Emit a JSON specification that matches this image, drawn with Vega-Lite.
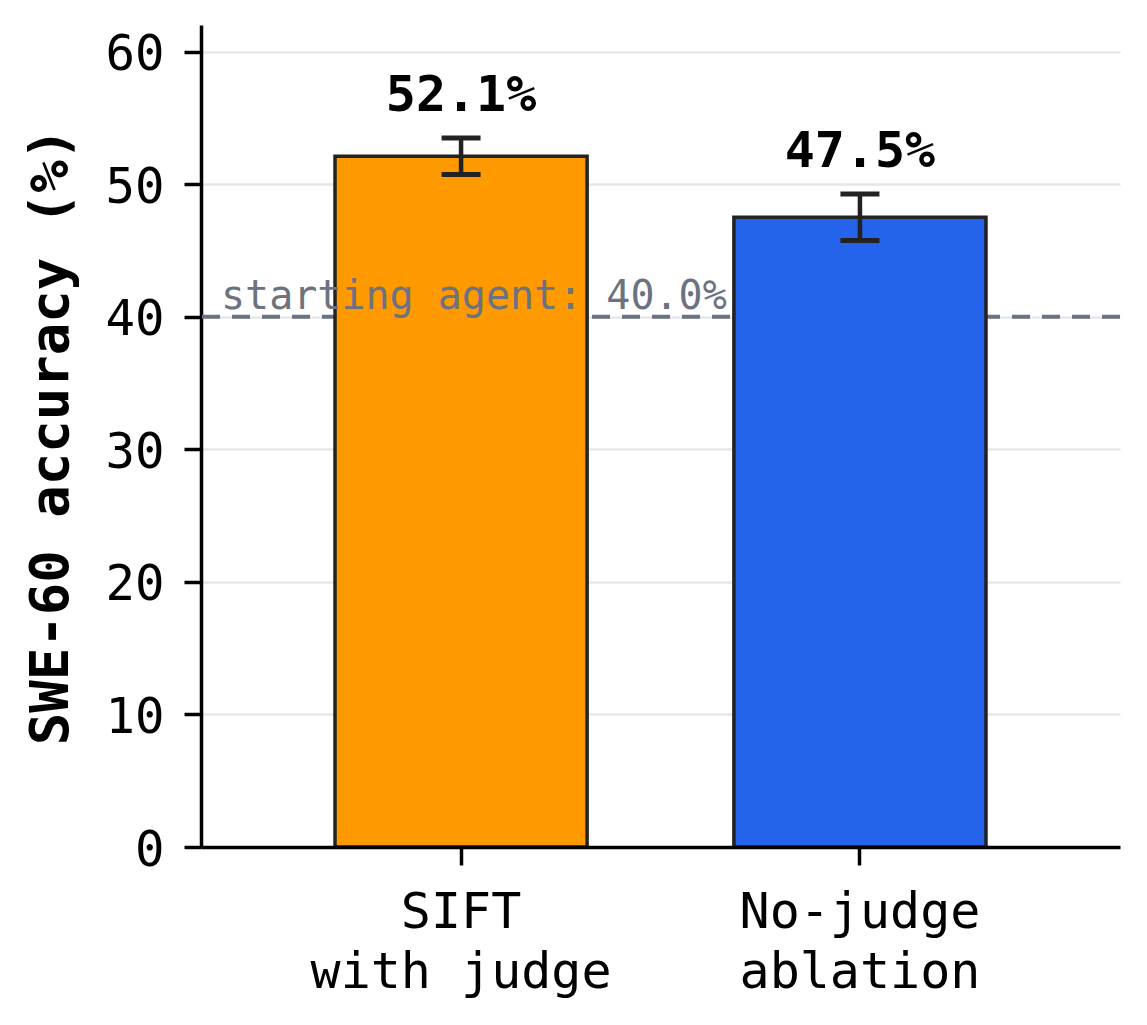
{
  "$schema": "https://vega.github.io/schema/vega-lite/v6.json",
  "width": 919,
  "height": 822,
  "autosize": {"type": "none"},
  "padding": {"left": 201, "top": 25, "right": 27, "bottom": 178},
  "background": "white",
  "config": {
    "view": {"stroke": null},
    "font": "DejaVu Sans Mono"
  },
  "datasets": {
    "bars": [
      {"method": "SIFT\nwith judge", "accuracy": 52.1, "lo": 50.73, "hi": 53.47, "label": "52.1%"},
      {"method": "No-judge\nablation", "accuracy": 47.5, "lo": 45.75, "hi": 49.25, "label": "47.5%"}
    ],
    "baseline": [
      {"method": "SIFT\nwith judge", "accuracy": 40.0, "label": "starting agent: 40.0%"}
    ]
  },
  "data": {"name": "bars"},
  "encoding": {
    "x": {
      "field": "method",
      "type": "nominal",
      "sort": null,
      "scale": {"paddingInner": 0.368, "paddingOuter": 0.336},
      "axis": {
        "title": null,
        "labelAngle": 0,
        "labelExpr": "split(datum.label, '\\n')",
        "labelLimit": 0,
        "labelFont": "DejaVu Sans Mono",
        "labelFontSize": 50,
        "labelLineHeight": 60,
        "labelColor": "black",
        "labelPadding": 22,
        "labelBaseline": "top",
        "domainColor": "black",
        "domainWidth": 3.5,
        "tickColor": "black",
        "tickWidth": 3.5,
        "tickSize": 18,
        "grid": false,
        "zindex": 1
      }
    }
  },
  "layer": [
    {
      "data": {"name": "baseline"},
      "mark": {"type": "rule", "color": "#6b7280", "strokeWidth": 4, "strokeDash": [18, 12]},
      "encoding": {
        "x": null,
        "y": {"field": "accuracy", "type": "quantitative"}
      }
    },
    {
      "mark": {"type": "bar", "stroke": "#222222", "strokeWidth": 3.5, "opacity": 1},
      "encoding": {
        "y": {
          "field": "accuracy",
          "type": "quantitative",
          "scale": {"domain": [0, 62], "nice": false, "zero": true},
          "axis": {
            "title": "SWE-60 accuracy (%)",
            "values": [0, 10, 20, 30, 40, 50, 60],
            "titleFont": "DejaVu Sans Mono",
            "titleFontSize": 54,
            "titleFontWeight": "bold",
            "titleColor": "black",
            "titleAngle": 270,
            "titleAlign": "center",
            "titleBaseline": "bottom",
            "titleX": -123,
            "titleY": 411,
            "labelFont": "DejaVu Sans Mono",
            "labelFontSize": 49,
            "labelColor": "black",
            "labelPadding": 20,
            "labelOffset": 3,
            "domainColor": "black",
            "domainWidth": 3.5,
            "tickColor": "black",
            "tickWidth": 3.5,
            "tickSize": 17,
            "grid": true,
            "gridColor": "#e5e7eb",
            "gridWidth": 2.5
          }
        },
        "color": {
          "field": "method",
          "type": "nominal",
          "scale": {"domain": ["SIFT\nwith judge", "No-judge\nablation"], "range": ["#ff9900", "#2563eb"]},
          "legend": null
        }
      }
    },
    {
      "mark": {"type": "rule", "color": "#222222", "strokeWidth": 4.5, "opacity": 1},
      "encoding": {
        "y": {"field": "lo", "type": "quantitative"},
        "y2": {"field": "hi"}
      }
    },
    {
      "mark": {"type": "tick", "color": "#222222", "thickness": 5, "size": 39, "orient": "horizontal", "opacity": 1},
      "encoding": {"y": {"field": "lo", "type": "quantitative"}}
    },
    {
      "mark": {"type": "tick", "color": "#222222", "thickness": 5, "size": 39, "orient": "horizontal", "opacity": 1},
      "encoding": {"y": {"field": "hi", "type": "quantitative"}}
    },
    {
      "mark": {"type": "text", "font": "DejaVu Sans Mono", "fontSize": 50, "fontWeight": "bold", "color": "black", "baseline": "alphabetic", "align": "center", "dy": -27},
      "encoding": {
        "y": {"field": "hi", "type": "quantitative"},
        "text": {"field": "label"}
      }
    },
    {
      "data": {"name": "baseline"},
      "mark": {"type": "text", "font": "DejaVu Sans Mono", "fontSize": 40, "color": "#6b7280", "baseline": "alphabetic", "align": "left", "dx": -114, "dy": -8},
      "encoding": {
        "x": {"field": "method", "type": "nominal", "sort": null, "bandPosition": 0},
        "y": {"field": "accuracy", "type": "quantitative"},
        "text": {"field": "label"}
      }
    }
  ]
}
